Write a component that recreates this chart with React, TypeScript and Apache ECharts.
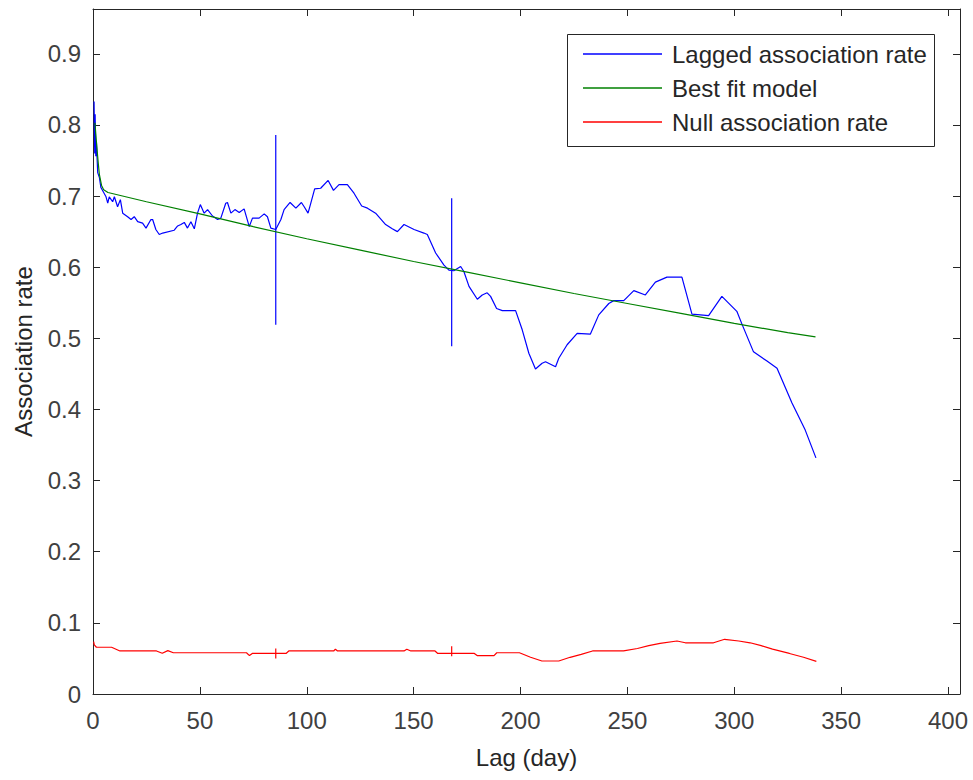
import React, { useEffect, useRef } from "react";
import * as echarts from "echarts";

// Lagged association rate (blue)
const lagX = [0.5, 0.8, 1.0, 1.3, 1.6, 2.2, 3.0, 3.7, 5.0, 6.1, 6.9, 7.6, 9.2, 10.0, 11.5, 12.8, 13.9, 16.2, 17.8, 19.3, 20.9, 23.2, 24.8, 27.1, 27.9, 29.4, 31.0, 32.6, 38.0, 39.6, 41.1, 42.7, 44.2, 45.8, 47.4, 48.9, 50.2, 52.0, 53.6, 55.9, 58.3, 59.8, 62.1, 62.9, 64.5, 66.4, 68.4, 70.7, 73.1, 74.6, 77.7, 80.1, 81.6, 83.2, 85.5, 87.9, 89.4, 92.2, 94.9, 97.5, 98.8, 100.6, 101.9, 103.7, 106.5, 110.0, 112.5, 115.1, 119.0, 122.1, 125.7, 128.4, 132.2, 136.9, 140.0, 142.4, 145.5, 150.2, 154.8, 156.4, 160.3, 164.2, 166.5, 168.8, 172.0, 173.5, 175.9, 179.8, 182.1, 184.4, 186.0, 188.8, 191.5, 197.7, 200.8, 203.9, 207.0, 210.1, 211.7, 216.4, 217.9, 221.8, 226.5, 232.7, 236.6, 241.3, 243.6, 248.3, 253.0, 258.4, 263.1, 268.5, 275.5, 280.2, 288.0, 294.2, 301.2, 303.6, 309.0, 315.3, 320.0, 327.0, 333.2, 338.2];
const lagY = [0.833, 0.760, 0.815, 0.756, 0.775, 0.733, 0.726, 0.712, 0.705, 0.699, 0.690, 0.699, 0.692, 0.699, 0.685, 0.695, 0.676, 0.671, 0.667, 0.671, 0.664, 0.662, 0.655, 0.667, 0.667, 0.653, 0.646, 0.648, 0.652, 0.658, 0.660, 0.663, 0.655, 0.664, 0.654, 0.676, 0.688, 0.676, 0.681, 0.672, 0.667, 0.669, 0.690, 0.691, 0.676, 0.681, 0.677, 0.682, 0.657, 0.669, 0.669, 0.675, 0.671, 0.655, 0.653, 0.667, 0.681, 0.691, 0.683, 0.691, 0.685, 0.676, 0.690, 0.710, 0.711, 0.722, 0.708, 0.716, 0.716, 0.704, 0.686, 0.683, 0.676, 0.660, 0.654, 0.650, 0.660, 0.653, 0.648, 0.646, 0.620, 0.603, 0.596, 0.595, 0.601, 0.594, 0.573, 0.555, 0.561, 0.564, 0.559, 0.542, 0.539, 0.539, 0.512, 0.479, 0.457, 0.465, 0.467, 0.460, 0.472, 0.491, 0.507, 0.506, 0.533, 0.549, 0.553, 0.553, 0.567, 0.561, 0.579, 0.586, 0.586, 0.534, 0.532, 0.559, 0.538, 0.520, 0.481, 0.468, 0.458, 0.409, 0.371, 0.332];

// Best fit model (green)
const fitX = [0.9, 1.5, 2.0, 2.5, 3.0, 4.0, 5.0, 7.0, 25, 50, 75, 100, 125, 150, 175, 200, 225, 250, 275, 300, 325, 338];
const fitY = [0.803, 0.780, 0.762, 0.745, 0.730, 0.715, 0.709, 0.705, 0.692, 0.675, 0.657, 0.640, 0.624, 0.608, 0.593, 0.578, 0.563, 0.549, 0.535, 0.521, 0.508, 0.502];

// Null association rate (red)
const nullX = [0.3, 0.6, 1.6, 8.7, 12.6, 29.7, 32.4, 35.0, 37.6, 71.8, 73.2, 74.5, 90.3, 91.6, 112.6, 113.4, 114.4, 145.5, 146.8, 148.7, 160.0, 161.3, 178.4, 179.7, 187.6, 188.9, 199.5, 204.7, 210.0, 217.9, 223.2, 228.4, 233.7, 248.2, 254.7, 260.0, 265.3, 273.2, 277.1, 290.3, 295.5, 302.1, 307.4, 312.6, 317.9, 325.8, 332.4, 338.4];
const nullY = [0.0736, 0.069, 0.0657, 0.0657, 0.0605, 0.0605, 0.0572, 0.061, 0.058, 0.058, 0.054, 0.057, 0.057, 0.0605, 0.0605, 0.063, 0.0605, 0.0605, 0.063, 0.0605, 0.0605, 0.057, 0.057, 0.054, 0.054, 0.058, 0.058, 0.0516, 0.0464, 0.0464, 0.0516, 0.0558, 0.0605, 0.0605, 0.064, 0.068, 0.0712, 0.0745, 0.072, 0.072, 0.0769, 0.0745, 0.072, 0.068, 0.063, 0.057, 0.0516, 0.0458];

// Error bars
const errX = [85.5, 167.8];
const lagErrLow = [0.519, 0.489];
const lagErrHigh = [0.786, 0.697];
const nullErrLow = [0.050, 0.053];
const nullErrHigh = [0.064, 0.067];

const legendNames = ["Lagged association rate", "Best fit model", "Null association rate"];

const FONT = "'Liberation Sans', Arial, Helvetica, sans-serif";
const AXIS_COLOR = "#262626";
const LABEL_COLOR = "#404040";

const pairs = (xs: number[], ys: number[]) => xs.map((x, i) => [x, ys[i]]);

const errSeries = (name: string, color: string, lo: number[], hi: number[]) => ({
  type: "custom",
  name,
  silent: true,
  renderItem: (params: any, api: any) => {
    const x = api.value(0);
    const p1 = api.coord([x, api.value(1)]);
    const p2 = api.coord([x, api.value(2)]);
    return {
      type: "line",
      shape: { x1: p1[0], y1: p1[1], x2: p2[0], y2: p2[1] },
      style: { stroke: color, lineWidth: 1.2 },
    };
  },
  encode: { x: 0, y: [1, 2] },
  data: errX.map((x, i) => [x, lo[i], hi[i]]),
  z: 3,
});

export default function App() {
  const ref = useRef<HTMLDivElement>(null);
  useEffect(() => {
    if (!ref.current) return;
    const chart = echarts.init(ref.current, undefined, { renderer: "svg" });
    const xBase = {
      type: "value",
      min: 0,
      max: 405.6,
      interval: 50,
      splitLine: { show: false },
      axisLine: { onZero: false, lineStyle: { color: AXIS_COLOR, width: 1 } },
      axisTick: { inside: true, length: 7, lineStyle: { color: AXIS_COLOR } },
    };
    const yBase = {
      type: "value",
      min: 0,
      max: 0.963,
      interval: 0.1,
      splitLine: { show: false },
      axisLine: { onZero: false, lineStyle: { color: AXIS_COLOR, width: 1 } },
      axisTick: { inside: true, length: 7, lineStyle: { color: AXIS_COLOR } },
    };
    const option: any = {
      animation: false,
      backgroundColor: "#ffffff",
      grid: { left: 93, right: 13, top: 9, bottom: 86 },
      xAxis: [
        {
          ...xBase,
          position: "bottom",
          name: "Lag (day)",
          nameLocation: "middle",
          nameGap: 51,
          nameTextStyle: { fontSize: 24, color: AXIS_COLOR, fontFamily: FONT },
          axisLabel: { margin: 14, fontSize: 24, color: LABEL_COLOR, fontFamily: FONT, showMaxLabel: false },
        },
        { ...xBase, position: "top", axisLabel: { show: false } },
      ],
      yAxis: [
        {
          ...yBase,
          position: "left",
          name: "Association rate",
          nameLocation: "middle",
          nameGap: 58,
          nameTextStyle: { fontSize: 24, color: AXIS_COLOR, fontFamily: FONT },
          axisLabel: { margin: 12, fontSize: 24, color: LABEL_COLOR, fontFamily: FONT, showMaxLabel: false },
        },
        { ...yBase, position: "right", axisLabel: { show: false } },
      ],
      legend: {
        data: legendNames.map((n) => ({ name: n, icon: "rect" })),
        orient: "vertical",
        left: 583,
        top: 42,
        itemWidth: 79,
        itemHeight: 1.5,
        itemGap: 10,
        padding: 0,
        textStyle: { fontSize: 24, color: AXIS_COLOR, fontFamily: FONT, lineHeight: 24, padding: [0, 0, 0, 5] },
      },
      graphic: [
        {
          type: "rect",
          shape: { x: 567.5, y: 34.5, width: 367, height: 112 },
          style: { fill: "none", stroke: AXIS_COLOR, lineWidth: 1 },
          z: 10,
        },
      ],
      series: [
        {
          type: "line",
          name: legendNames[0],
          data: pairs(lagX, lagY),
          symbol: "none",
          showSymbol: false,
          lineStyle: { color: "#0000ff", width: 1.2 },
          itemStyle: { color: "#0000ff" },
          z: 2,
        },
        {
          type: "line",
          name: legendNames[1],
          data: pairs(fitX, fitY),
          symbol: "none",
          showSymbol: false,
          lineStyle: { color: "#008000", width: 1.2 },
          itemStyle: { color: "#008000" },
          z: 3,
        },
        {
          type: "line",
          name: legendNames[2],
          data: pairs(nullX, nullY),
          symbol: "none",
          showSymbol: false,
          lineStyle: { color: "#ff0000", width: 1.2 },
          itemStyle: { color: "#ff0000" },
          z: 2,
        },
        errSeries("lagErr", "#0000ff", lagErrLow, lagErrHigh),
        errSeries("nullErr", "#ff0000", nullErrLow, nullErrHigh),
      ],
    };
    chart.setOption(option);
    return () => chart.dispose();
  }, []);
  return (
    <div
      ref={ref}
      style={{ position: "fixed", left: 0, top: 0, width: 973, height: 780, background: "#fff" }}
    />
  );
}
